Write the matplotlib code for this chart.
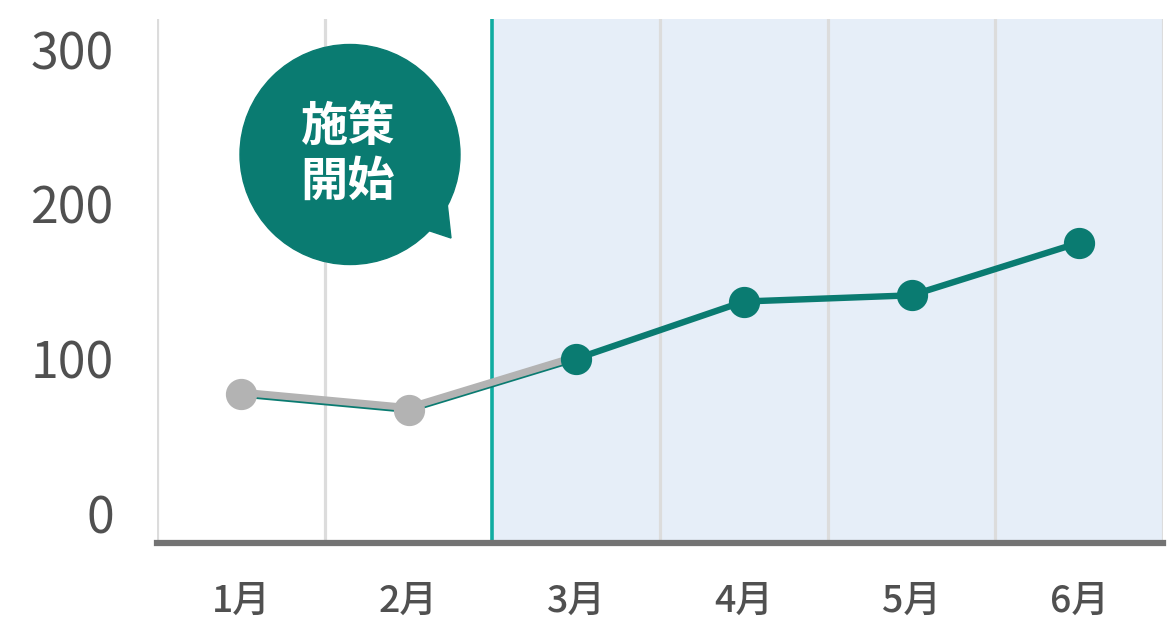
import numpy as np
import matplotlib
matplotlib.use('Agg')
import matplotlib.pyplot as plt
from matplotlib.patches import Ellipse, Polygon
from matplotlib.transforms import offset_copy

plt.rcParams['font.family'] = ['Noto Sans CJK JP', 'DejaVu Sans']

# data
months = ['1月', '2月', '3月', '4月', '5月', '6月']
values = [77, 67, 100, 137, 141, 175]
y_ticks = [0, 100, 200, 300]
start_index = 2          # 施策開始 (3月から)
bubble_text = '施策\n開始'

teal = '#0a7b71'
teal_line = '#10aca1'
gray = '#b3b3b3'
text_col = '#505050'

fig = plt.figure(figsize=(11.67, 6.39), dpi=100)
ax = fig.add_axes([157 / 1167, 96 / 639, 1006 / 1167, 524 / 639])

x = np.arange(len(months))
ax.set_xlim(-0.5, len(months) - 0.5)
ax.set_ylim(-19, 319.5)

# shaded area after start
ax.axvspan(start_index - 0.5, len(months) - 0.5, color='#e6eef8', zorder=0, lw=0)

# vertical grid lines between months
for b in np.arange(-0.5, len(months), 1.0):
    if b == start_index - 0.5:
        ax.axvline(b, color=teal_line, lw=2.6, zorder=1)
    else:
        ax.axvline(b, color='#dcdcdc', lw=2.3, zorder=1)

# teal line (full), gray overlay for before-start
ax.plot(x, values, color=teal, lw=4.6, zorder=3, solid_capstyle='round')
up = offset_copy(ax.transData, fig=fig, x=0, y=1.6, units='points')
ax.plot(x[:start_index + 1], values[:start_index + 1], color=gray, lw=5.2,
        zorder=4, transform=up)
ax.plot(x[:start_index], values[:start_index], 'o', color=gray, ms=21.5, zorder=5)
ax.plot(x[start_index:], values[start_index:], 'o', color=teal, ms=21.5, zorder=5)

# axes styling
for s in ['left', 'right', 'top']:
    ax.spines[s].set_visible(False)
ax.spines['bottom'].set_color('#737373')
ax.spines['bottom'].set_linewidth(4.5)
ax.spines['bottom'].set_zorder(6)

ax.set_xticks(x)
ax.set_xticklabels(months)
ax.set_yticks(y_ticks)
ax.tick_params(axis='x', length=0, pad=28, labelsize=27, labelcolor=text_col)
ax.tick_params(axis='y', length=0, pad=31, labelsize=36, labelcolor=text_col)
for lbl in ax.get_xticklabels():
    lbl.set_fontweight('medium')

# speech bubble
tr = fig.dpi_scale_trans
tail = Polygon([(4.18, 6.39 - 2.27), (4.46, 6.39 - 1.93), (4.51, 6.39 - 2.38)],
               closed=True, color=teal, transform=tr, zorder=10)
bubble = Ellipse((3.50, 6.39 - 1.545), 2.2, 2.2, color=teal, transform=tr, zorder=10)
fig.add_artist(tail)
fig.add_artist(bubble)
fig.text(3.48 / 11.67, (6.39 - 1.545) / 6.39, bubble_text, color='white',
         fontsize=34, fontweight='bold', ha='center', va='center',
         linespacing=1.2, zorder=11)

fig.savefig('out.png', dpi=100)
